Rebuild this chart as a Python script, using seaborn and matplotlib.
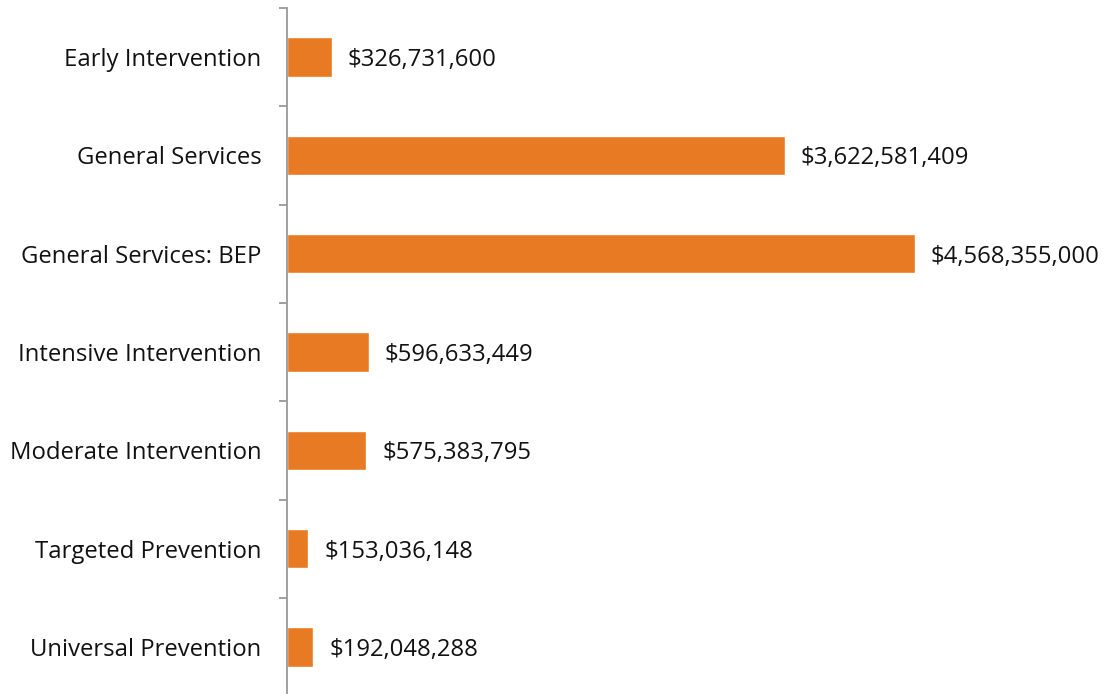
import matplotlib
matplotlib.use("Agg")
import matplotlib.pyplot as plt
import seaborn as sns
import pandas as pd
import numpy as np

categories = [
    "Early Intervention",
    "General Services",
    "General Services: BEP",
    "Intensive Intervention",
    "Moderate Intervention",
    "Targeted Prevention",
    "Universal Prevention",
]
spending = [326731600, 3622581409, 4568355000, 596633449, 575383795, 153036148, 192048288]

sns.set_theme(style="white")
plt.rcParams["font.family"] = ["Open Sans", "DejaVu Sans"]

W, H = 1106, 694
fig = plt.figure(figsize=(W / 100, H / 100), dpi=100)
ax_left, ax_top, band = 287, 8, 98.3
ax_w = W - ax_left
ax_h = band * len(categories)
ax = fig.add_axes([ax_left / W, 1 - (ax_top + ax_h) / H, ax_w / W, ax_h / H])

df = pd.DataFrame({"category": categories, "spending": spending})
bar_color = "#E87A24"
sns.barplot(data=df, y="category", x="spending", color=bar_color, width=0.4,
            saturation=1, ax=ax, orient="h")

# scale so the largest bar ends well short of the right edge
ax.set_xlim(0, max(spending) * ax_w / 628)
ax.set_ylim(len(categories) - 0.5, -0.5)

for i, v in enumerate(spending):
    ax.annotate(f"${v:,.0f}", xy=(v, i), xytext=(11.5, 0), textcoords="offset points",
                va="center_baseline", ha="left", fontsize=17.2, color="#111111")

ax.set_xlabel("")
ax.set_ylabel("")
ax.set_xticks([])
ax.tick_params(axis="y", which="major", left=False, length=0, pad=18.5,
               labelsize=17.2, labelcolor="#111111")
ax.set_yticks(np.arange(-0.5, len(categories) + 0.5, 1), minor=True)
ax.tick_params(axis="y", which="minor", left=True, length=6, width=1.3,
               color="#999999", direction="out")

for s in ["top", "right", "bottom"]:
    ax.spines[s].set_visible(False)
ax.spines["left"].set_color("#999999")
ax.spines["left"].set_linewidth(1.3)

fig.savefig("out.png", dpi=100)
